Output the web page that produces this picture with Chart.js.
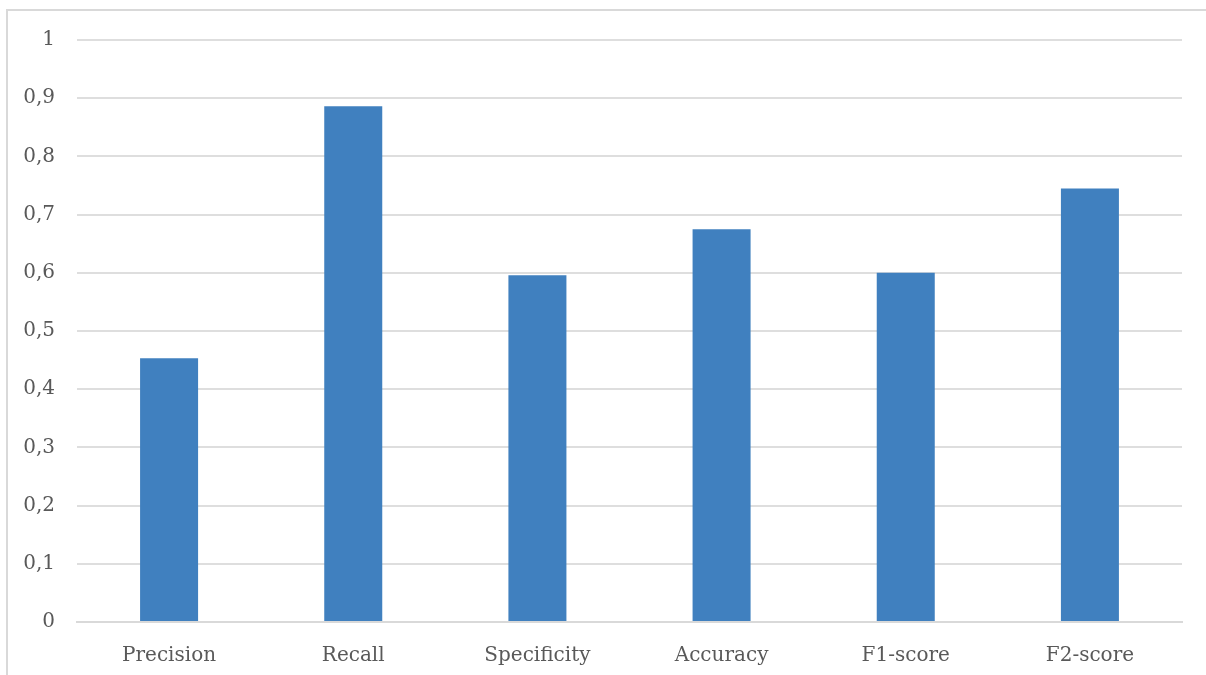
<!DOCTYPE html>
<html>
<head>
<meta charset="utf-8">
<script src="https://cdn.jsdelivr.net/npm/chart.js@4/dist/chart.umd.min.js"></script>
<style>
    html, body { margin: 0; padding: 0; background: #fff; overflow: hidden; }
    #frame {
        position: absolute; left: 6px; top: 9px;
        width: 1400px; height: 900px;
        border: 2px solid #d9d9d9; box-sizing: border-box;
    }
    #wrap { position: absolute; left: 0; top: 0; width: 1206px; height: 675px; }
</style>
</head>
<body>
<div id="frame"></div>
<div id="wrap"><canvas id="chart"></canvas></div>
<script>
const categories = ['Precision', 'Recall', 'Specificity', 'Accuracy', 'F1-score', 'F2-score'];
const scores = [0.453, 0.886, 0.596, 0.675, 0.600, 0.745];
const yTicks = [0, 0.1, 0.2, 0.3, 0.4, 0.5, 0.6, 0.7, 0.8, 0.9, 1];

const fontFamily = '"DejaVu Serif", "Liberation Serif", serif';

// comma decimal like the original
function fmt(v) {
    return Number.isInteger(v) ? String(v) : v.toFixed(1).replace('.', ',');
}

new Chart(document.getElementById('chart'), {
    type: 'bar',
    data: {
        labels: categories,
        datasets: [{
            data: scores,
            backgroundColor: '#4080bf',
            categoryPercentage: 1,
            barPercentage: 0.315,
        }]
    },
    options: {
        responsive: true,
        maintainAspectRatio: false,
        animation: false,
        layout: { padding: { top: 40, right: 24, left: 0, bottom: 0 } },
        plugins: {
            legend: { display: false },
            tooltip: { enabled: false }
        },
        scales: {
            x: {
                grid: { display: false, drawTicks: false },
                border: { color: '#d9d9d9', width: 2 },
                ticks: { color: '#595959', font: { family: fontFamily, size: 20 }, padding: 22 },
                afterFit: s => { s.height = 53; }
            },
            y: {
                min: 0,
                max: 1,
                afterBuildTicks: s => { s.ticks = yTicks.map(v => ({ value: v })); },
                grid: { color: '#dedede', lineWidth: 2, drawTicks: false },
                border: { display: false },
                ticks: {
                    color: '#595959',
                    font: { family: fontFamily, size: 20 },
                    padding: 22,
                    callback: v => fmt(v)
                },
                afterFit: s => { s.width = 77; }
            }
        }
    }
});
</script>
</body>
</html>
